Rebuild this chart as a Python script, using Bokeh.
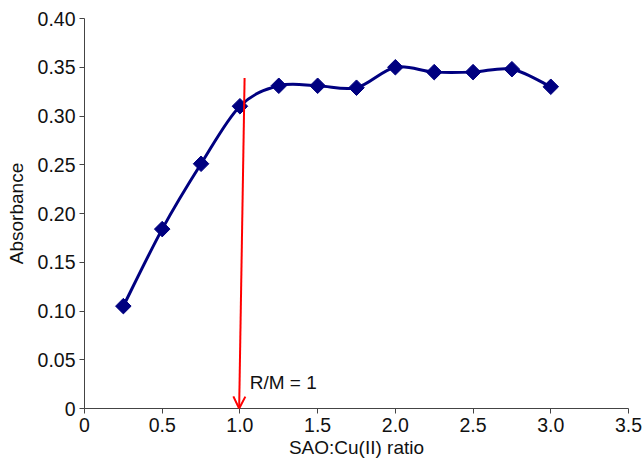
import numpy as np
from bokeh.plotting import figure
from bokeh.models import Range1d, FixedTicker, Arrow, OpenHead, Label
from bokeh.embed import file_html
from bokeh.resources import INLINE

# Data
ratio = [0.25, 0.5, 0.75, 1.0, 1.25, 1.5, 1.75, 2.0, 2.25, 2.5, 2.75, 3.0]
absorbance = [0.105, 0.184, 0.251, 0.310, 0.331, 0.331, 0.329, 0.350, 0.345, 0.345, 0.348, 0.330]
x_ticks = [0, 0.5, 1.0, 1.5, 2.0, 2.5, 3.0, 3.5]
x_tick_labels = ["0", "0.5", "1.0", "1.5", "2.0", "2.5", "3.0", "3.5"]
y_ticks = [0, 0.05, 0.10, 0.15, 0.20, 0.25, 0.30, 0.35, 0.40]
y_tick_labels = ["0", "0.05", "0.10", "0.15", "0.20", "0.25", "0.30", "0.35", "0.40"]
arrow_start = (1.03, 0.339)
arrow_end = (0.995, 0.0)
annotation = "R/M = 1"

FONT = "Liberation Sans"
NAVY = "#000080"

p = figure(width=644, height=462, output_backend="svg", toolbar_location=None,
           x_range=Range1d(0, 3.5), y_range=Range1d(0, 0.40),
           min_border_left=84, min_border_right=16, min_border_top=18, min_border_bottom=54)
p.outline_line_color = None
p.grid.visible = False
p.background_fill_color = "white"

# axes
p.xaxis.ticker = FixedTicker(ticks=x_ticks)
p.yaxis.ticker = FixedTicker(ticks=y_ticks)
p.xaxis.major_label_overrides = {t: l for t, l in zip(x_ticks, x_tick_labels)}
p.yaxis.major_label_overrides = {t: l for t, l in zip(y_ticks, y_tick_labels)}
for ax in (p.xaxis[0], p.yaxis[0]):
    ax.axis_line_color = "#444444"
    ax.major_tick_line_color = "#444444"
    ax.major_tick_out = 5
    ax.major_tick_in = 0
    ax.minor_tick_line_color = None
    ax.major_label_text_font = FONT
    ax.major_label_text_font_size = "19.5px"
    ax.major_label_text_color = "#111111"
    ax.axis_label_text_font = FONT
    ax.axis_label_text_font_size = "19px"
    ax.axis_label_text_font_style = "normal"
    ax.axis_label_text_color = "#111111"
    ax.major_label_standoff = 4
p.xaxis.axis_label = "SAO:Cu(II) ratio"
p.yaxis.axis_label = "Absorbance"
p.xaxis.axis_label_standoff = 2
p.yaxis.axis_label_standoff = 8

# smoothed curve through points (Catmull-Rom as cubic Bezier)
xs = np.array(ratio)
ys = np.array(absorbance)
n = len(xs)
x0, y0, x1, y1, cx0, cy0, cx1, cy1 = [], [], [], [], [], [], [], []
for i in range(n - 1):
    im1 = max(i - 1, 0)
    ip2 = min(i + 2, n - 1)
    x0.append(xs[i]); y0.append(ys[i])
    x1.append(xs[i + 1]); y1.append(ys[i + 1])
    cx0.append(xs[i] + (xs[i + 1] - xs[im1]) / 6)
    cy0.append(ys[i] + (ys[i + 1] - ys[im1]) / 6)
    cx1.append(xs[i + 1] - (xs[ip2] - xs[i]) / 6)
    cy1.append(ys[i + 1] - (ys[ip2] - ys[i]) / 6)
p.bezier(x0=x0, y0=y0, x1=x1, y1=y1, cx0=cx0, cy0=cy0, cx1=cx1, cy1=cy1,
         line_color=NAVY, line_width=3)
p.scatter(ratio, absorbance, marker="square", angle=np.pi / 4, size=11,
          fill_color=NAVY, line_color=NAVY)

# red arrow
p.add_layout(Arrow(x_start=arrow_start[0], y_start=arrow_start[1],
                   x_end=arrow_end[0], y_end=arrow_end[1],
                   line_color="#ff0000", line_width=2,
                   end=OpenHead(size=12, line_color="#ff0000", line_width=2)))
p.add_layout(Label(x=1.063, y=0.016, text=annotation, text_font=FONT,
                   text_font_size="19px", text_color="#111111"))

open("out.html", "w").write(file_html(p, INLINE))
